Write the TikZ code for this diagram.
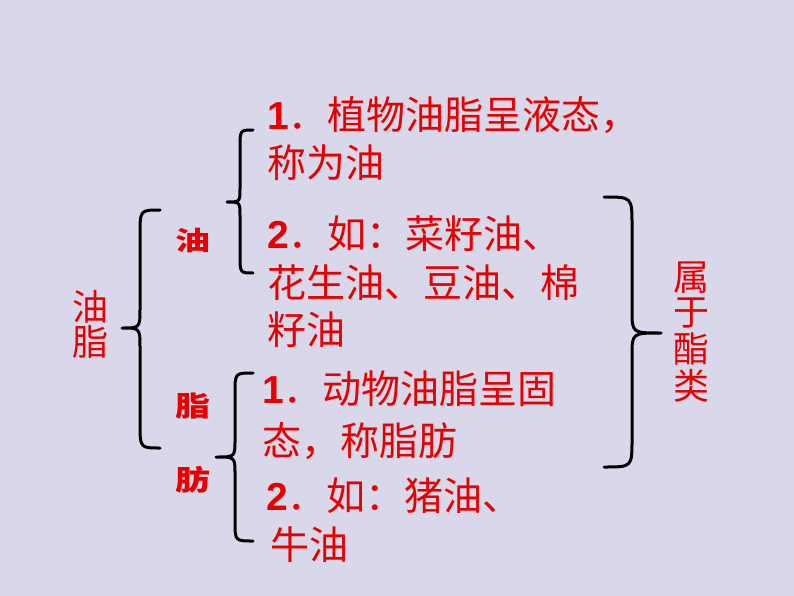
\documentclass[tikz,border=0pt]{standalone}
\usepackage{fontspec}
\setmainfont{Liberation Sans}
\newfontfamily\cjk{Noto Sans CJK SC}
\newfontfamily\arialf{Liberation Sans}
\definecolor{bg}{RGB}{216,216,234}
\definecolor{txtred}{RGB}{232,0,0}
\newcommand\numb[1]{{\arialf\bfseries #1}}
\begin{document}
\begin{tikzpicture}[x=1pt,y=-1pt,
  textline/.style={anchor=west,inner sep=0pt,text=txtred,
    font=\cjk\fontsize{39}{39}\selectfont,text height=34.3pt,text depth=4.7pt},
  sidechar/.style={inner sep=0pt,text=txtred,font=\cjk\fontsize{36}{36}\selectfont},
  tagchar/.style={inner sep=0pt,text=txtred,font=\cjk\bfseries\fontsize{35}{35}\selectfont},
  bracestyle/.style={line width=3pt,line cap=round,line join=round,draw=black}]
\fill[bg] (0,0) rectangle (794,596);
\useasboundingbox (0,0) rectangle (794,596);

% left vertical label
\node[sidechar] (y1) at (90,307) {油};
\node[sidechar] (y2) at (90,342) {脂};

% small tags
\node[tagchar] (t1) at (193,240) {\scalebox{1}[0.75]{油}};
\node[tagchar] (t2) at (193,406) {\scalebox{1}[0.8]{脂}};
\node[tagchar] (t3) at (193,480) {\scalebox{1}[0.8]{肪}};

% right vertical label
\node[sidechar] (r1) at (691,278) {属};
\node[sidechar] (r2) at (691,313) {于};
\node[sidechar] (r3) at (691,349) {酯};
\node[sidechar] (r4) at (691,386) {类};

% text lines
\node[textline] (l1) at (267,115) {\numb{1}．植物油脂呈液态，};
\node[textline] (l2) at (267,163) {称为油};
\node[textline] (l3) at (267,234) {\numb{2}．如：菜籽油、};
\node[textline] (l4) at (267,283) {花生油、豆油、棉};
\node[textline] (l5) at (267,330) {籽油};
\node[textline] (l6) at (262,389) {\numb{1}．动物油脂呈固};
\node[textline] (l7) at (262,441) {态，称脂肪};
\node[textline] (l8) at (266,496) {\numb{2}．如：猪油、};
\node[textline] (l9) at (270,545) {牛油};

% braces
\draw[bracestyle] (160,210) .. controls (140,210) .. (140,235) -- (140,308)
  .. controls (140,328) .. (122,328) .. controls (140,328) .. (140,348)
  -- (140,423) .. controls (140,448) .. (160,448);
\draw[bracestyle] (253,130) .. controls (240,130) .. (240,148) -- (240,188)
  .. controls (240,202) .. (227,202) .. controls (240,202) .. (240,216)
  -- (240,255) .. controls (240,273) .. (253,273);
\draw[bracestyle] (253,373) .. controls (235,373) .. (235,393) -- (235,440)
  .. controls (235,457) .. (216,457) .. controls (235,457) .. (235,474)
  -- (235,521) .. controls (235,541) .. (253,541);
\draw[bracestyle] (604,197) .. controls (632,197) .. (632,225) -- (632,310)
  .. controls (632,333) .. (661,333) .. controls (632,333) .. (632,356)
  -- (632,440) .. controls (632,467) .. (604,467);
\end{tikzpicture}
\end{document}
